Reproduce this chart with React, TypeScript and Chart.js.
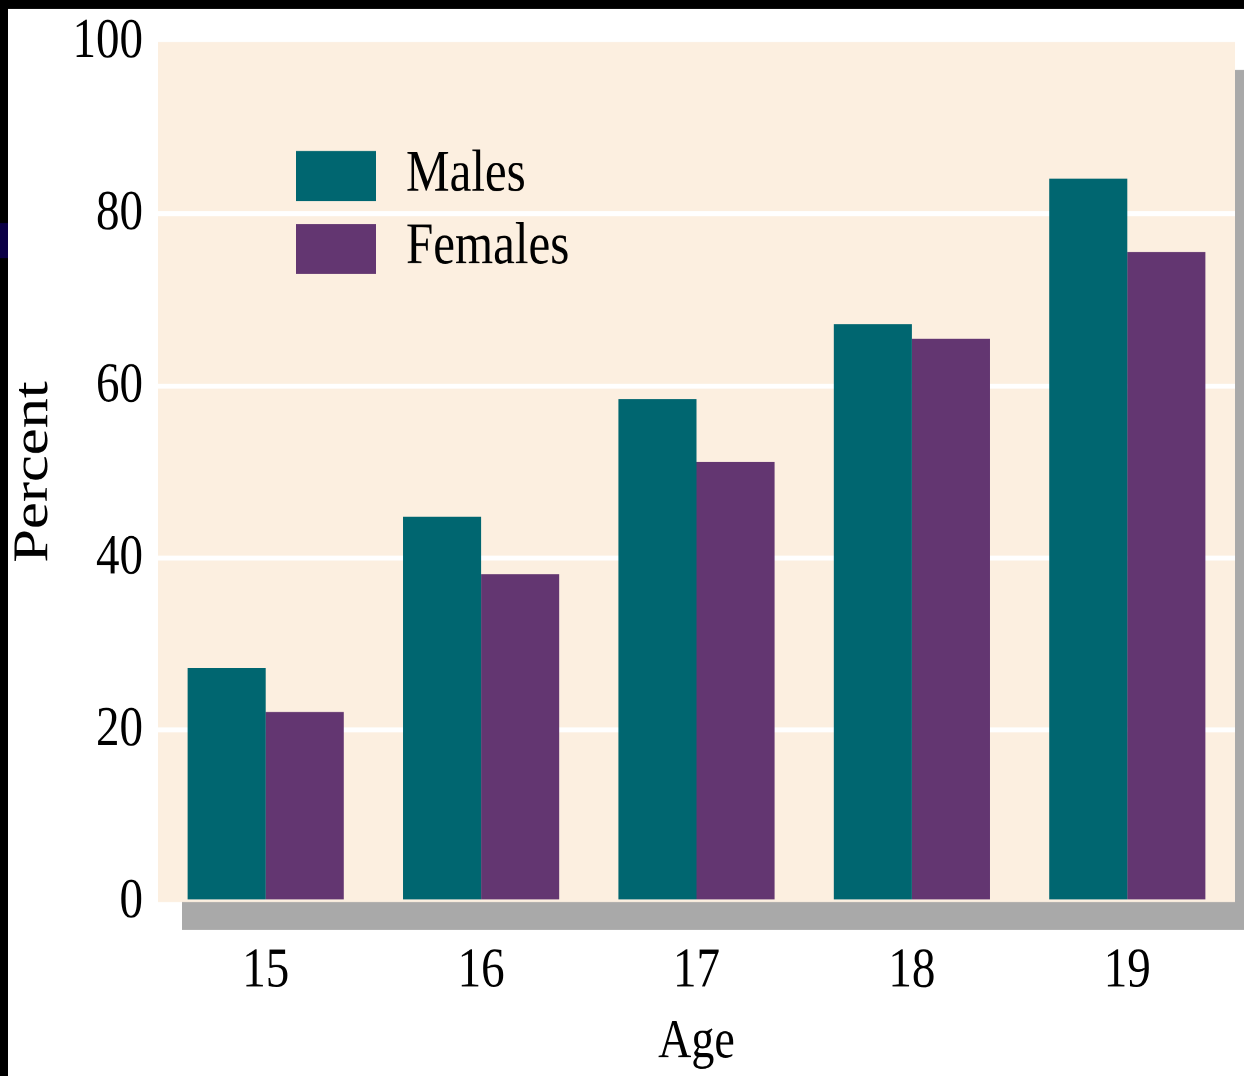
import { useEffect, useRef } from 'react';
import { Chart, registerables } from 'chart.js';

Chart.register(...registerables);

// ---- data ----
const ages: string[] = ['15', '16', '17', '18', '19'];
const males: number[] = [27.2, 44.8, 58.5, 67.2, 84.1];
const females: number[] = [22.1, 38.1, 51.2, 65.5, 75.6];
const yTickValues: number[] = [0, 20, 40, 60, 80, 100];
const seriesNames: string[] = ['Males', 'Females'];
const xTitle = 'Age';
const yTitle = 'Percent';

// The reference is vertically stretched; draw at a reduced height and stretch.
const W = 1244;
const H = 889;
const SY = 1076 / H;

const FONT = '"Liberation Serif", "Times New Roman", serif';
const TEAL = '#006670';
const PURPLE = '#633671';
const BEIGE = '#fcefe0';
const SHADOW = '#a9a9a9';

const backdropPlugin = {
  id: 'backdrop',
  beforeDraw(chart: any) {
    const { ctx, width, height, chartArea } = chart;
    ctx.save();
    ctx.fillStyle = '#ffffff';
    ctx.fillRect(0, 0, width, height);
    ctx.fillStyle = '#000000';
    ctx.fillRect(0, 0, width, 9 / SY);
    ctx.fillRect(0, 0, 8, height);
    ctx.fillStyle = '#0b0045';
    ctx.fillRect(0, 223 / SY, 8, 35 / SY);
    const { left, top, right, bottom } = chartArea;
    ctx.fillStyle = SHADOW;
    ctx.fillRect(left + 24, top + 28 / SY, right - left, bottom - top);
    ctx.fillStyle = BEIGE;
    ctx.fillRect(left, top, right - left, bottom - top);
    ctx.restore();
  },
};

const boxLegendPlugin = {
  id: 'boxLegend',
  afterDatasetsDraw(chart: any) {
    const { ctx, chartArea } = chart;
    ctx.save();
    chart.data.datasets.forEach((ds: any, i: number) => {
      const bx = chartArea.left + 138;
      const by = chartArea.top + (109 + i * 73) / SY;
      const bh = 50 / SY;
      ctx.fillStyle = ds.backgroundColor;
      ctx.fillRect(bx, by, 80, bh);
      ctx.fillStyle = '#000000';
      ctx.font = `49px ${FONT}`;
      ctx.textAlign = 'left';
      ctx.textBaseline = 'middle';
      ctx.fillText(ds.label, bx + 110, by + bh / 2 - 1);
    });
    ctx.restore();
  },
};

export default function App() {
  const canvasRef = useRef<HTMLCanvasElement | null>(null);

  useEffect(() => {
    document.body.style.margin = '0';
    document.body.style.overflow = 'hidden';
    const canvas = canvasRef.current;
    if (!canvas) return;
    const chart = new Chart(canvas, {
      type: 'bar',
      data: {
        labels: ages,
        datasets: [
          {
            label: seriesNames[0],
            data: males,
            backgroundColor: TEAL,
            borderWidth: 0,
            barPercentage: 1,
            categoryPercentage: 0.725,
          },
          {
            label: seriesNames[1],
            data: females,
            backgroundColor: PURPLE,
            borderWidth: 0,
            barPercentage: 1,
            categoryPercentage: 0.725,
          },
        ],
      },
      options: {
        animation: false,
        responsive: true,
        maintainAspectRatio: false,
        devicePixelRatio: 2,
        layout: { padding: { top: 42 / SY, right: 9, bottom: 0, left: 0 } },
        plugins: {
          legend: { display: false },
          tooltip: { enabled: false },
        },
        scales: {
          x: {
            grid: { display: false, drawTicks: false },
            border: { display: false },
            ticks: {
              color: '#000000',
              font: { family: FONT, size: 47 },
              padding: 29,
              maxRotation: 0,
            },
            title: {
              display: true,
              text: xTitle,
              color: '#000000',
              font: { family: FONT, size: 46 },
              padding: { top: 0, bottom: 0 },
            },
            afterFit: (s: any) => {
              s.height = 174 / SY;
              s.paddingLeft = 0;
              s.paddingRight = 0;
            },
          },
          y: {
            min: 0,
            max: 100,
            afterBuildTicks: (s: any) => {
              s.ticks = yTickValues.map((v) => ({ value: v }));
            },
            grid: {
              drawTicks: false,
              lineWidth: 5 / SY,
              color: (c: any) =>
                c.tick && c.tick.value > 0 && c.tick.value < 100 ? '#ffffff' : 'rgba(0,0,0,0)',
            },
            border: { display: false },
            ticks: {
              color: '#000000',
              font: { family: FONT, size: 47 },
              padding: 15,
            },
            title: {
              display: true,
              text: yTitle,
              color: '#000000',
              font: { family: FONT, size: 50 },
              padding: { top: 4, bottom: 0 },
            },
            afterFit: (s: any) => {
              s.width = 158;
              s.paddingTop = 0;
              s.paddingBottom = 0;
            },
          },
        },
      },
      plugins: [backdropPlugin, boxLegendPlugin],
    });
    return () => chart.destroy();
  }, []);

  return (
    <div style={{ position: 'relative', width: W, height: 1076, overflow: 'hidden' }}>
      <div
        style={{
          position: 'relative',
          width: W,
          height: H,
          transform: `scaleY(${SY})`,
          transformOrigin: '0 0',
        }}
      >
        <canvas ref={canvasRef} />
      </div>
    </div>
  );
}
